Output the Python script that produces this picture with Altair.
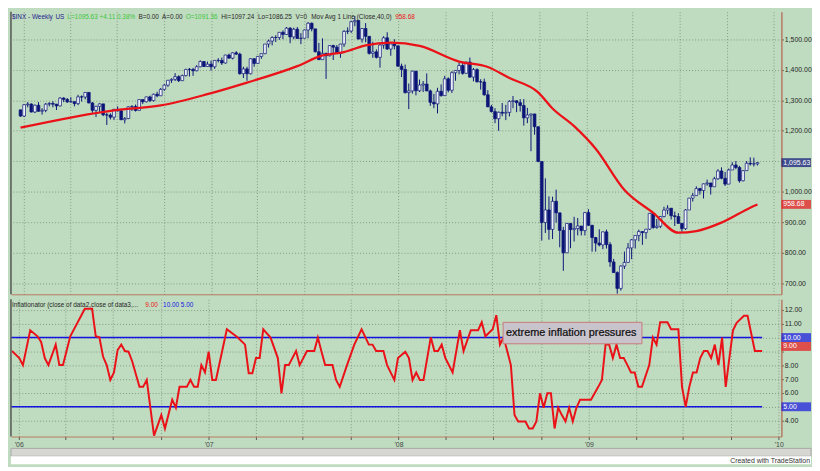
import altair as alt
import pandas as pd

# ---------------- data ----------------
FIRST_WEEK = "2005-12-26"   # Monday of the first weekly bar
first_open = 1268.66

closes = [
    1248.29,
    # 2006
    1285.45, 1287.61, 1261.49, 1283.72, 1264.03, 1266.99, 1287.24, 1289.43, 1287.23, 1281.42, 1307.25, 1302.95, 1294.83,
    1295.50, 1289.12, 1311.28, 1310.61, 1325.76, 1291.24, 1267.03, 1280.16, 1288.22, 1252.30, 1251.54, 1244.50, 1270.20,
    1265.48, 1236.20, 1240.29, 1278.55, 1279.36, 1266.74, 1302.30, 1295.09, 1311.01, 1298.92, 1319.66, 1314.78, 1335.85,
    1349.59, 1365.62, 1368.60, 1377.34, 1364.30, 1380.90, 1401.20, 1400.95, 1396.71, 1409.84, 1427.09, 1410.76, 1418.30,
    # 2007
    1409.71, 1430.73, 1430.50, 1422.18, 1448.39, 1438.06, 1455.54, 1451.19, 1387.17, 1402.84, 1386.95, 1436.11, 1420.86,
    1443.76, 1452.85, 1484.35, 1494.07, 1505.62, 1505.85, 1522.75, 1515.73, 1536.34, 1507.67, 1532.91, 1502.56, 1503.35,
    1530.44, 1552.50, 1534.10, 1458.95, 1433.06, 1453.64, 1445.94, 1479.37, 1473.99, 1453.55, 1484.25, 1525.75, 1526.75,
    1557.59, 1561.80, 1500.63, 1535.28, 1509.65, 1453.70, 1458.74, 1440.70, 1481.14, 1504.66, 1467.95, 1484.46, 1478.49,
    # 2008
    1411.63, 1401.02, 1325.19, 1330.61, 1395.42, 1331.29, 1349.99, 1353.11, 1330.63, 1293.37, 1288.14, 1329.51, 1315.22,
    1370.40, 1332.83, 1390.33, 1397.84, 1413.90, 1388.28, 1425.35, 1375.93, 1400.38, 1360.68, 1360.03, 1317.93, 1278.38,
    1262.90, 1239.49, 1260.68, 1257.76, 1260.31, 1296.32, 1298.20, 1292.20, 1282.83, 1242.31, 1251.70, 1255.08, 1213.27,
    1099.23, 899.22, 940.55, 876.77, 968.75, 930.99, 873.29, 800.03, 896.24, 876.07, 879.73, 887.88, 872.80,
    # 2009
    931.80, 890.35, 850.12, 831.95, 825.88, 868.60, 826.84, 770.05, 735.09, 683.38, 756.55, 768.54, 815.94,
    842.50, 856.56, 869.60, 866.23, 877.52, 929.23, 882.88, 887.00, 919.14, 940.09, 946.21, 921.23, 918.90,
    896.42, 879.13, 940.38, 979.26, 987.48, 1010.48, 1004.09, 1026.13, 1028.93, 1016.40, 1042.73, 1068.30, 1044.38,
    1025.21, 1071.49, 1087.68, 1079.60, 1036.19, 1069.30, 1093.48, 1091.38, 1091.49, 1095.63,
]

highs = [
    1261,
    1288, 1294, 1290, 1286, 1294, 1274, 1291, 1294, 1297, 1288, 1310, 1310, 1307,
    1310, 1296, 1318, 1316, 1327, 1326, 1294, 1282, 1290, 1288, 1259, 1257, 1272,
    1280, 1272, 1245, 1280, 1284, 1286, 1302, 1302, 1312, 1315, 1322, 1328, 1340,
    1353, 1366, 1372, 1389, 1382, 1384, 1403, 1406, 1406, 1415, 1431, 1428, 1427,
    1430, 1432, 1438, 1440, 1449, 1453, 1457, 1461, 1456, 1410, 1410, 1438, 1438,
    1445, 1453, 1484, 1499, 1510, 1513, 1523, 1529, 1540, 1540, 1538, 1540, 1520,
    1532, 1556, 1555, 1534, 1488, 1503, 1456, 1480, 1482, 1481, 1485, 1530, 1539,
    1561, 1576, 1563, 1536, 1553, 1510, 1492, 1467, 1489, 1510, 1523, 1485, 1500,
    1471, 1420, 1417, 1355, 1397, 1396, 1368, 1363, 1388, 1335, 1321, 1341, 1352,
    1380, 1375, 1395, 1399, 1423, 1424, 1426, 1440, 1406, 1405, 1369, 1371, 1333,
    1285, 1274, 1263, 1291, 1285, 1300, 1314, 1300, 1304, 1304, 1275, 1256, 1256,
    1214, 1099, 1044, 985, 984, 1007, 928, 885, 897, 896, 918, 914, 880,
    934, 943, 891, 852, 877, 870, 876, 835, 780, 739, 759, 804, 832,
    845, 857, 876, 871, 878, 930, 930, 911, 920, 951, 956, 946, 935,
    930, 898, 943, 980, 996, 1018, 1013, 1027, 1040, 1028, 1049, 1074, 1080,
    1065, 1076, 1097, 1101, 1085, 1071, 1101, 1113, 1112, 1097.24,
]

lows = [
    1246,
    1245, 1277, 1260, 1258, 1262, 1253, 1261, 1280, 1277, 1268, 1280, 1294, 1291,
    1292, 1280, 1284, 1296, 1303, 1290, 1259, 1245, 1259, 1248, 1219, 1237, 1235,
    1263, 1235, 1224, 1238, 1265, 1263, 1266, 1288, 1293, 1294, 1296, 1310, 1314,
    1331, 1344, 1357, 1363, 1360, 1364, 1378, 1378, 1380, 1395, 1408, 1409, 1410,
    1397, 1403, 1424, 1416, 1420, 1437, 1434, 1449, 1384, 1373, 1364, 1385, 1410,
    1419, 1436, 1451, 1473, 1480, 1491, 1498, 1500, 1515, 1487, 1500, 1501, 1484,
    1503, 1503, 1526, 1457, 1433, 1433, 1370, 1444, 1432, 1452, 1439, 1475, 1517,
    1521, 1543, 1500, 1489, 1490, 1450, 1439, 1437, 1407, 1469, 1465, 1446, 1467,
    1411, 1376, 1322, 1271, 1322, 1316, 1327, 1327, 1330, 1282, 1274, 1257, 1312,
    1314, 1326, 1324, 1364, 1385, 1384, 1387, 1374, 1362, 1358, 1335, 1315, 1278,
    1260, 1225, 1200, 1248, 1235, 1247, 1274, 1261, 1263, 1217, 1225, 1133, 1187,
    1097, 840, 865, 843, 845, 899, 818, 741, 801, 815, 837, 857, 857,
    857, 888, 804, 804, 821, 812, 814, 754, 735, 666, 676, 747, 768,
    779, 814, 838, 826, 846, 875, 879, 879, 881, 916, 926, 909, 888,
    896, 869, 875, 940, 968, 987, 991, 978, 1020, 991, 1017, 1039, 1041,
    1019, 1025, 1072, 1074, 1030, 1034, 1069, 1086, 1083, 1086.25,
]

# 40-week moving average (bar number -> value)
ma_bars = [0, 26, 39, 52, 63, 77, 84, 90, 96, 103, 111, 122, 130, 136, 144, 148,
           154, 160, 168, 176, 183, 188, 195, 203, 205]
ma_values = [1210, 1267, 1283, 1320, 1358, 1412, 1447, 1458, 1480, 1489, 1478, 1427,
             1409, 1373, 1326, 1273, 1215, 1141, 1006, 931, 866, 871, 899, 948, 958.68]

# Inflationator (bar number -> value)
infl_bars = [-1, 1, 2, 4, 6, 7, 8, 9, 11, 12, 13, 15, 19, 21, 22, 23, 24, 25, 26, 27, 28, 29,
             30, 31, 32, 34, 35, 36, 38, 40, 41, 43, 44, 45, 47, 48, 49, 50, 51, 52, 53, 54, 55,
             58, 61, 63, 64, 65, 66, 67, 68, 70, 72, 73, 74, 75, 77, 78, 80, 82, 83, 84, 85, 87,
             88, 89, 91, 93, 95, 97, 98, 99, 101, 102, 104, 105, 107, 108, 109, 110, 111, 112,
             114, 115, 116, 117, 118, 120, 122, 123, 125, 127, 128, 129, 131, 132, 133, 134, 136,
             137, 138, 140, 141, 142, 143, 144, 145, 146, 147, 148, 149, 150, 151, 152, 153, 154,
             155, 157, 158, 160, 161, 162, 163, 164, 165, 166, 167, 168, 169, 170, 171, 172, 174,
             175, 176, 177, 179, 180, 182, 183, 184, 185, 186, 187, 188, 189, 190, 191, 192, 193,
             194, 195, 196, 197, 198, 200, 201, 203, 205]
infl_values = [9.03, 8.52, 8.01, 10.53, 10.09, 9.68, 8.52, 8.01, 9.49, 8.01, 8.01, 10.09, 12.08,
               12.08, 10.09, 10.02, 8.63, 8.01, 6.94, 7.48, 9.10, 9.49, 9.03, 8.98, 8.29, 6.44,
               6.44, 6.94, 2.92, 4.40, 3.43, 5.51, 4.93, 6.44, 6.44, 6.94, 6.44, 6.44, 8.01, 7.48,
               8.98, 6.94, 6.94, 10.60, 10.0, 9.49, 7.43, 7.43, 8.52, 8.52, 10.60, 10.0, 8.52,
               5.97, 8.01, 8.01, 9.03, 8.01, 9.03, 9.03, 10.0, 8.98, 8.01, 8.01, 6.94, 6.44, 8.01,
               9.49, 10.60, 9.49, 9.49, 9.03, 9.03, 8.01, 6.94, 8.52, 8.98, 8.52, 6.94, 7.48, 6.94,
               6.94, 10.02, 9.03, 9.03, 9.49, 8.52, 7.48, 10.53, 9.03, 10.53, 10.53, 11.11, 10.09,
               10.60, 11.62, 9.49, 10.02, 8.01, 4.40, 3.94, 3.94, 3.43, 3.43, 3.94, 5.97, 4.93,
               5.97, 5.97, 3.43, 4.93, 4.40, 3.94, 4.93, 3.94, 4.93, 5.51, 5.51, 5.51, 6.44, 6.94,
               9.49, 9.49, 8.52, 9.49, 8.52, 8.52, 8.01, 7.48, 7.48, 6.44, 6.44, 8.01, 10.0, 9.49,
               11.11, 11.11, 10.60, 10.60, 6.44, 5.0, 6.44, 7.48, 7.48, 8.52, 9.03, 9.03, 8.52,
               9.49, 8.01, 10.0, 6.44, 8.52, 10.53, 11.06, 11.57, 11.57, 9.03, 9.03]

levels = [10, 5]
price_ticks = [700, 800, 900, 1000, 1100, 1200, 1300, 1400, 1500]
infl_ticks = [4, 5, 6, 7, 8, 9, 10, 11, 12]

top_tag_values = [1095.63, 958.68]
top_tag_labels = ["1,095.63", "958.68"]
bottom_tag_values = [10, 5]
bottom_tag_labels = ["10.00", "5.00"]
last_infl_value = 9.0
last_infl_label = "9.00"

note_text = "extreme inflation pressures"
note_dates = ["2008-07-20", "2009-04-13"]
note_levels = [9.55, 11.1]

top_header_texts = ["$INX - Weekly", "US", "L=1095.63 +4.11 0.38%", "B=0.00", "A=0.00",
                    "O=1091.36", "Hi=1097.24", "Lo=1086.25", "V=0",
                    "Mov Avg 1 Line (Close,40,0)", "958.68"]
bottom_header_texts = ["Inflationator (close of data2,close of data3,...", "9.00", "10.00", "5.00"]

# ---------------- styling / layout ----------------
W, H1, H2 = 780, 286, 139
FONT = "Liberation Sans"
BG = "#c0dcc0"
GRID = "#7d917d"
NAVY = "#0c1478"
UPFILL = "#eef2f8"
RED = "#ea1218"
BLUE = "#1414e0"
BORDER = "#b87862"
INK = "#262626"
GREEN = "#3cc43c"
DARKBLUE = "#1a1a8c"
HEAD_SIZE = 6.5

top_header_colors = [DARKBLUE, DARKBLUE, GREEN, INK, INK, GREEN, INK, INK, INK, INK, RED]
top_header_x = [1, 45, 57, 129, 153, 177, 213, 250, 288, 304, 389]
bottom_header_colors = [INK, RED, BLUE, BLUE]
bottom_header_x = [1, 136, 154, 172]

start = pd.Timestamp(FIRST_WEEK)


def week_date(i):
    return start + pd.Timedelta(weeks=i)


bars = pd.DataFrame({
    "date": [week_date(i) for i in range(len(closes))],
    "close": closes, "high": highs, "low": lows,
})
bars["open"] = [first_open] + closes[:-1]
bars["high"] = bars[["high", "open", "close"]].max(axis=1)
bars["low"] = bars[["low", "open", "close"]].min(axis=1)
bars["up"] = bars["close"] >= bars["open"]

ma = pd.DataFrame({"date": [week_date(i) for i in ma_bars], "ma": ma_values})
infl = pd.DataFrame({"date": [week_date(i) for i in infl_bars], "v": infl_values})
lv = pd.DataFrame({"level": levels,
                   "start": pd.Timestamp("2005-12-17"),
                   "end": week_date(len(closes) - 1)})
note = pd.DataFrame({"x0": [pd.Timestamp(note_dates[0])], "x1": [pd.Timestamp(note_dates[1])],
                     "y0": [note_levels[0]], "y1": [note_levels[1]],
                     "ym": [(note_levels[0] + note_levels[1]) / 2], "t": [note_text]})

x_domain = [alt.DateTime(year=2005, month=12, date=17), alt.DateTime(year=2010, month=1, date=6)]
xscale = alt.Scale(domain=x_domain)
quarters = [alt.DateTime(year=y, month=m, date=1)
            for y in range(2006, 2011) for m in (1, 4, 7, 10) if not (y == 2010 and m > 1)]

grid_kw = dict(grid=True, gridColor=GRID, gridDash=[1, 2], gridWidth=1, gridOpacity=0.9)

top_xaxis = alt.Axis(values=quarters, labels=False, ticks=False, domain=True,
                     domainColor=BORDER, title=None, **grid_kw)
bot_xaxis = alt.Axis(values=quarters, title=None, domain=True, domainColor=BORDER,
                     labelExpr="month(datum.value) == 0 ? \"'\" + timeFormat(datum.value, '%y') : ''",
                     labelOverlap=False, labelFlush=False, tickSize=3, tickColor="#555555",
                     labelFontSize=7, labelColor="#444444", labelPadding=1, **grid_kw)

top_yscale = alt.Scale(domain=[664, 1590], nice=False, zero=False)
bot_yscale = alt.Scale(domain=[2.85, 12.77], nice=False, zero=False)

top_yaxis = alt.Axis(orient="right", values=price_ticks, title=None,
                     labelExpr="datum.value == 1100 ? '' : format(datum.value, ',.2f')",
                     tickSize=2, tickColor="#555555", labelPadding=1, labelFontSize=7,
                     labelColor=INK, domainColor=BORDER, domainWidth=1.5, **grid_kw)
bot_yaxis = alt.Axis(orient="right", values=infl_ticks, title=None,
                     labelExpr="indexof([5, 9, 10], datum.value) >= 0 ? '' : format(datum.value, '.2f')",
                     tickSize=2, tickColor="#555555", labelPadding=1, labelFontSize=7,
                     labelColor=INK, domainColor=BORDER, domainWidth=1.5, **grid_kw)


def TX(field):
    return alt.X(f"{field}:T", scale=xscale, axis=top_xaxis)


def BX(field):
    return alt.X(f"{field}:T", scale=xscale, axis=bot_xaxis)


def TY(field):
    return alt.Y(f"{field}:Q", scale=top_yscale, axis=top_yaxis)


def BY(field):
    return alt.Y(f"{field}:Q", scale=bot_yscale, axis=bot_yaxis)


one = pd.DataFrame({"a": [0]})

# ---------------- top panel ----------------
wicks = alt.Chart(bars).mark_rule(color=NAVY, strokeWidth=1).encode(
    x=TX("date"), y=TY("low"), y2="high:Q")
bodies = alt.Chart(bars).mark_bar(size=2.8, stroke=NAVY, strokeWidth=0.7).encode(
    x=TX("date"), y=TY("open"), y2="close:Q",
    fill=alt.condition("datum.up", alt.value(UPFILL), alt.value(NAVY)))
ma_line = alt.Chart(ma).mark_line(color=RED, strokeWidth=2.3, interpolate="monotone").encode(
    x=TX("date"), y=TY("ma"))

top_tags_df = pd.DataFrame({"v": top_tag_values, "label": top_tag_labels,
                            "c": [NAVY, RED]})
top_tag_box = alt.Chart(top_tags_df).mark_tick(orient="horizontal", thickness=9, size=30).encode(
    x=alt.value(W + 15), y=TY("v"), color=alt.Color("c:N", scale=None))
top_tag_txt = alt.Chart(top_tags_df).mark_text(align="left", baseline="middle", fontSize=7,
                                               font=FONT, color="white").encode(
    x=alt.value(W + 2), y=TY("v"), text="label:N")

left_edge_top = alt.Chart(one).mark_rule(color="#555555", strokeWidth=1.5).encode(
    x=alt.value(0), y=alt.value(0), y2=alt.value(H1))

top_header = [
    alt.Chart(pd.DataFrame({"t": [t]})).mark_text(
        align="left", baseline="alphabetic", fontSize=HEAD_SIZE, font=FONT, color=c).encode(
        x=alt.value(px), y=alt.value(7), text="t:N")
    for t, c, px in zip(top_header_texts, top_header_colors, top_header_x)
]

top = alt.layer(wicks, bodies, ma_line, top_tag_box, top_tag_txt, left_edge_top,
                *top_header).properties(width=W, height=H1)

# ---------------- bottom panel ----------------
blue_lines = alt.Chart(lv).mark_rule(color=BLUE, strokeWidth=1.6).encode(
    x=BX("start"), x2="end:T", y=BY("level"))
infl_line = alt.Chart(infl).mark_line(color=RED, strokeWidth=2).encode(
    x=BX("date"), y=BY("v"))
note_box = alt.Chart(note).mark_rect(fill="#c9c3cc", stroke="#c87a7a", strokeWidth=1).encode(
    x=BX("x0"), x2="x1:T", y=BY("y0"), y2="y1:Q")
note_txt = alt.Chart(note).mark_text(align="left", baseline="middle", dx=3, fontSize=11,
                                     font=FONT, color="#111111", stroke="#111111",
                                     strokeWidth=0.25).encode(
    x=BX("x0"), y=BY("ym"), text="t:N")

bot_tags_df = pd.DataFrame({"v": bottom_tag_values, "label": bottom_tag_labels})
bot_tag_box = alt.Chart(bot_tags_df).mark_tick(orient="horizontal", thickness=9, size=30,
                                               color=BLUE).encode(
    x=alt.value(W + 15), y=BY("v"))
bot_tag_txt = alt.Chart(bot_tags_df).mark_text(align="left", baseline="middle", fontSize=7,
                                               font=FONT, color="white").encode(
    x=alt.value(W + 2), y=BY("v"), text="label:N")
last_df = pd.DataFrame({"v": [last_infl_value], "label": [last_infl_label]})
last_tag_box = alt.Chart(last_df).mark_tick(orient="horizontal", thickness=9, size=30,
                                            color=RED, yOffset=-5).encode(
    x=alt.value(W + 15), y=BY("v"))
last_tag_txt = alt.Chart(last_df).mark_text(align="left", baseline="middle", fontSize=7,
                                            font=FONT, color="white", yOffset=-5).encode(
    x=alt.value(W + 2), y=BY("v"), text="label:N")

left_edge_bot = alt.Chart(one).mark_rule(color="#555555", strokeWidth=1.5).encode(
    x=alt.value(0), y=alt.value(0), y2=alt.value(H2))

bottom_header = [
    alt.Chart(pd.DataFrame({"t": [t]})).mark_text(
        align="left", baseline="alphabetic", fontSize=HEAD_SIZE, font=FONT, color=c).encode(
        x=alt.value(px), y=alt.value(8), text="t:N")
    for t, c, px in zip(bottom_header_texts, bottom_header_colors, bottom_header_x)
]

scrollbar = alt.Chart(one).mark_rect(fill="#d6d6d2", stroke="#a8a8a8", strokeWidth=1).encode(
    x=alt.value(0), x2=alt.value(W + 30), y=alt.value(H2 + 12), y2=alt.value(H2 + 20))
white_strip = alt.Chart(one).mark_rect(fill="white").encode(
    x=alt.value(0), x2=alt.value(W + 30), y=alt.value(H2 + 20), y2=alt.value(H2 + 28))
credit = alt.Chart(one).mark_text(align="right", baseline="alphabetic", fontSize=7, font=FONT,
                                  color="#333333").encode(
    x=alt.value(W + 29), y=alt.value(H2 + 27), text=alt.value("Created with TradeStation"))

bottom = alt.layer(blue_lines, infl_line, note_box, note_txt, bot_tag_box, bot_tag_txt,
                   last_tag_box, last_tag_txt, left_edge_bot, scrollbar, white_strip, credit,
                   *bottom_header).properties(width=W, height=H2)

chart = alt.vconcat(top, bottom, spacing=3).properties(padding=0).configure(
    background=BG, font=FONT
).configure_view(stroke=None).configure_axis(labelFont=FONT)

chart.save("out.html", embed_options={"renderer": "svg", "actions": False})
